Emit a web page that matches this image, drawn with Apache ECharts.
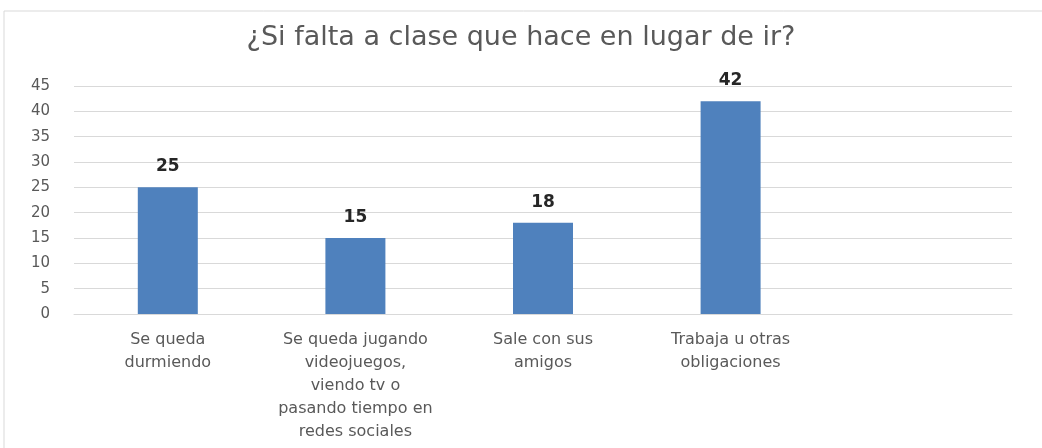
<!DOCTYPE html>
<html>
<head>
    <meta charset="utf-8" />
    <title>¿Si falta a clase que hace en lugar de ir?</title>
    <script src="https://cdn.jsdelivr.net/npm/echarts@6/dist/echarts.min.js"></script>
    <style>
        html, body { margin: 0; padding: 0; background: #fff; }
        #chart { width: 1042px; height: 448px; }
    </style>
</head>
<body>
<div id="chart"></div>
<script>
    // datos
    var titulo = '¿Si falta a clase que hace en lugar de ir?';
    var categorias = [
        'Se queda\ndurmiendo',
        'Se queda jugando\nvideojuegos,\nviendo tv o\npasando tiempo en\nredes sociales',
        'Sale con sus\namigos',
        'Trabaja u otras\nobligaciones',
        ''
    ];
    var valores = [25, 15, 18, 42, null];
    var yMin = 0, yMax = 45, yPaso = 5;

    var chart = echarts.init(document.getElementById('chart'));
    chart.setOption({
        animation: false,
        title: {
            text: titulo,
            left: 'center',
            top: 19,
            textStyle: {
                fontFamily: 'DejaVu Sans',
                fontSize: 27,
                fontWeight: 'normal',
                color: '#595959'
            }
        },
        graphic: [{
            type: 'rect',
            shape: { x: 4, y: 11, width: 1045, height: 445 },
            style: { fill: 'none', stroke: '#d9d9d9', lineWidth: 1 },
            silent: true
        }],
        grid: { left: 74, right: 30, top: 86, bottom: 134 },
        xAxis: {
            type: 'category',
            data: categorias,
            axisLine: { lineStyle: { color: '#d9d9d9', width: 1 } },
            axisTick: { show: false },
            axisLabel: {
                interval: 0,
                margin: 14,
                fontFamily: 'DejaVu Sans',
                fontSize: 16,
                lineHeight: 23,
                color: '#595959'
            }
        },
        yAxis: {
            type: 'value',
            min: yMin,
            max: yMax,
            interval: yPaso,
            axisLine: { show: false },
            axisTick: { show: false },
            axisLabel: {
                margin: 24,
                fontFamily: 'DejaVu Sans',
                fontSize: 15,
                color: '#595959'
            },
            splitLine: { lineStyle: { color: '#d9d9d9', width: 1 } }
        },
        series: [{
            type: 'bar',
            data: valores,
            barWidth: 60,
            itemStyle: { color: '#4f81bd' },
            label: {
                show: true,
                position: 'top',
                distance: 12,
                fontFamily: 'DejaVu Sans',
                fontSize: 17,
                fontWeight: 'bold',
                color: '#262626'
            }
        }]
    });
</script>
</body>
</html>
